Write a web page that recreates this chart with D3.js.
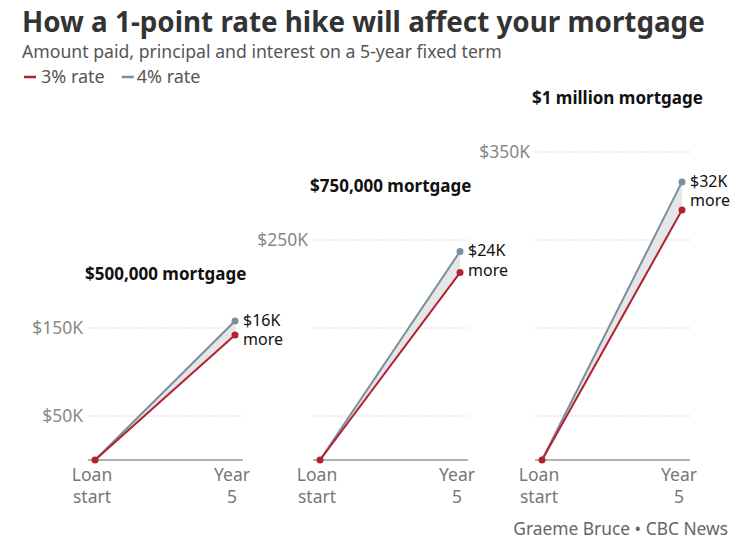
<!DOCTYPE html>
<html>
<head>
<meta charset="utf-8">
<script src="https://cdn.jsdelivr.net/npm/d3@7"></script>
<style>
  body { margin: 0; background: #fff; }
  svg { display: block; font-family: "Noto Sans", sans-serif; }
</style>
</head>
<body>
<svg id="chart" width="741" height="551"></svg>
<script>
// Data (thousands of dollars paid over the 5-year term)
const mortgages = ["$500,000 mortgage", "$750,000 mortgage", "$1 million mortgage"];
const steps = ["Loan start", "Year 5"];
const rate3 = [[0, 142], [0, 213], [0, 284]];
const rate4 = [[0, 158], [0, 237], [0, 316]];
const diffLabels = ["$16K", "$24K", "$32K"];
const gridTicks = [[50, 150], [50, 150, 250], [50, 150, 250, 350]];
const shownTicks = [[50, 150], [250], [350]];

const colors = { r3: "#b3202f", r4: "#7a8f9c", area: "#e4e6e8" };

const svg = d3.select("#chart");

// fit a text to a given width by adjusting its font size
function fitWidth(sel, target) {
  const fs = parseFloat(sel.style("font-size"));
  const w = sel.node().getComputedTextLength();
  sel.style("font-size", (fs * target / w).toFixed(2) + "px");
}

// Header
const title = svg.append("text")
  .attr("x", 22).attr("y", 32)
  .style("font-size", "28px")
  .style("font-weight", "bold")
  .style("fill", "#333")
  .text("How a 1-point rate hike will affect your mortgage");
fitWidth(title, 683);

const subtitle = svg.append("text")
  .attr("x", 22).attr("y", 58)
  .style("font-size", "17px")
  .style("fill", "#555")
  .text("Amount paid, principal and interest on a 5-year fixed term");
fitWidth(subtitle, 480);

const legend = svg.append("g").attr("transform", "translate(24,83)");
let lx = 0;
[["3% rate", colors.r3, 5], ["4% rate", colors.r4, 3]].forEach(([t, c, gap]) => {
  legend.append("line")
    .attr("x1", lx).attr("x2", lx + 12)
    .attr("y1", -6).attr("y2", -6)
    .attr("stroke", c).attr("stroke-width", 2.5);
  const lt = legend.append("text")
    .attr("x", lx + 12 + gap).attr("y", 0)
    .style("font-size", "18px")
    .style("fill", "#555")
    .text(t);
  lx += 12 + gap + lt.node().getComputedTextLength() + 17;
});

// Shared scales
const y = d3.scaleLinear().domain([0, 350]).range([460, 152]);
const panelLeft = [88, 313, 535];
const panelWidth = 155;
const x = d3.scalePoint().domain(steps).range([7, 147]);

mortgages.forEach((name, i) => {
  const g = svg.append("g").attr("transform", `translate(${panelLeft[i]},0)`);

  // gridlines
  g.selectAll(".grid")
    .data(gridTicks[i])
    .enter().append("line")
    .attr("x1", 0).attr("x2", panelWidth)
    .attr("y1", d => y(d)).attr("y2", d => y(d))
    .attr("stroke", "#ddd")
    .attr("stroke-width", 1)
    .attr("stroke-dasharray", "2,1");

  // y tick labels
  g.selectAll(".ytick")
    .data(shownTicks[i])
    .enter().append("text")
    .attr("x", -5)
    .attr("y", d => y(d))
    .attr("dy", "0.35em")
    .style("text-anchor", "end")
    .style("font-size", "17.5px")
    .style("fill", "#888")
    .text(d => `$${d}K`);

  // baseline
  g.append("line")
    .attr("x1", 0).attr("x2", panelWidth)
    .attr("y1", y(0)).attr("y2", y(0))
    .attr("stroke", "#999")
    .attr("stroke-width", 1.5);

  // panel title
  const topTick = d3.max(gridTicks[i]);
  g.append("text")
    .attr("x", -3)
    .attr("y", y(topTick) - 48)
    .style("font-size", "17px")
    .style("font-weight", "bold")
    .style("fill", "#111")
    .text(name);

  const pts3 = steps.map((s, j) => [x(s), y(rate3[i][j])]);
  const pts4 = steps.map((s, j) => [x(s), y(rate4[i][j])]);

  // shaded gap between the two rates
  const area = d3.area()
    .x(d => d[0])
    .y0(d => d[1])
    .y1(d => d[2]);
  g.append("path")
    .datum(steps.map((s, j) => [x(s), y(rate3[i][j]), y(rate4[i][j])]))
    .attr("d", area)
    .attr("fill", colors.area);

  const line = d3.line();
  g.append("path").attr("d", line(pts4))
    .attr("fill", "none").attr("stroke", colors.r4).attr("stroke-width", 2);
  g.append("path").attr("d", line(pts3))
    .attr("fill", "none").attr("stroke", colors.r3).attr("stroke-width", 2);

  g.append("circle").attr("cx", pts4[1][0]).attr("cy", pts4[1][1]).attr("r", 3.5).attr("fill", colors.r4);
  g.append("circle").attr("cx", pts3[1][0]).attr("cy", pts3[1][1]).attr("r", 3.5).attr("fill", colors.r3);
  g.append("circle").attr("cx", pts3[0][0]).attr("cy", pts3[0][1]).attr("r", 3.5).attr("fill", colors.r3);

  // difference annotation
  const ann = g.append("text")
    .attr("x", pts4[1][0] + 8)
    .attr("y", pts4[1][1] + 5)
    .style("font-size", "16px")
    .style("fill", "#111");
  ann.append("tspan").text(diffLabels[i]);
  ann.append("tspan").attr("x", pts4[1][0] + 8).attr("dy", "1.22em").text("more");

  // x labels
  steps.forEach(s => {
    const words = s.split(" ");
    const t = g.append("text")
      .attr("x", x(s) - 3).attr("y", y(0) + 21)
      .style("text-anchor", "middle")
      .style("font-size", "17.5px")
      .style("fill", "#777");
    t.append("tspan").text(words[0]);
    t.append("tspan").attr("x", x(s) - 3).attr("dy", "1.28em").text(words[1]);
  });
});

const footer = svg.append("text")
  .attr("x", 728).attr("y", 535)
  .style("text-anchor", "end")
  .style("font-size", "17px")
  .style("fill", "#666")
  .text("Graeme Bruce \u2022 CBC News");
fitWidth(footer, 215);
</script>
</body>
</html>
